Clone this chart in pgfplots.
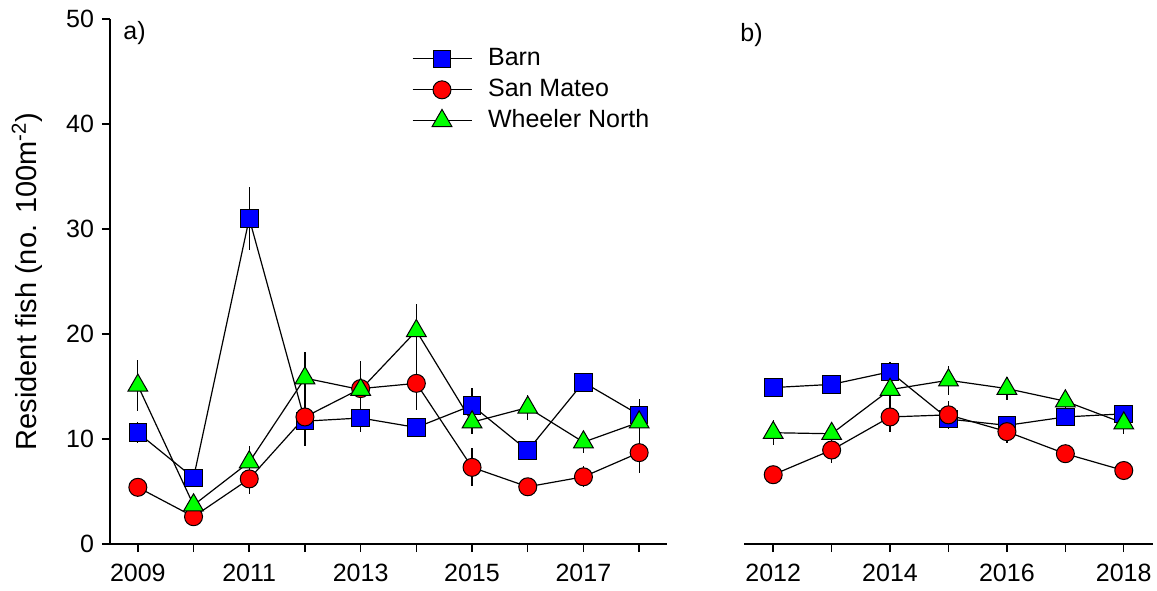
\documentclass[border=0pt]{standalone}
\usepackage{pgfplots}
\pgfplotsset{compat=1.18}
\usepackage{pgfplotstable}
\usepackage{fontspec}
\setmainfont{Liberation Sans}

\pgfplotstableread{
year barn barnE sm smE wn wnE
2009 10.6 1.0 5.4 0.9 15.1 2.4
2010 6.3 0.6 2.6 0.6 3.7 0.6
2011 31.0 3.0 6.2 1.4 7.8 1.5
2012 11.7 1.0 12.1 2.8 15.8 2.5
2013 12.0 1.3 14.8 2.6 14.7 2.0
2014 11.1 0.7 15.3 2.5 20.3 2.6
2015 13.2 1.7 7.3 1.8 11.6 1.1
2016 8.9 0.6 5.45 0.5 13.0 1.2
2017 15.4 0.8 6.4 1.0 9.7 1.0
2018 12.3 1.5 8.7 1.9 11.6 1.3
}\lefttable

\pgfplotstableread{
year barn barnE sm smE wn wnE
2012 14.9 0.4 6.6 0.5 10.6 1.2
2013 15.2 0.7 8.95 1.2 10.5 0.5
2014 16.4 0.9 12.1 1.4 14.7 1.3
2015 11.9 0.6 12.3 1.3 15.6 1.4
2016 11.3 0.6 10.7 1.1 14.8 1.1
2017 12.1 0.5 8.6 0.5 13.6 0.8
2018 12.4 0.5 7.0 0.5 11.5 1.0
}\righttable

\pgfplotsset{
  panel/.style={
    scale only axis,
    height=262.5pt,
    ymin=0, ymax=50,
    font=\fontsize{12.5}{15}\selectfont,
    tick label style={font=\fontsize{12.5}{15}\selectfont},
    /pgf/number format/assume math mode=true,
    /pgf/number format/1000 sep={},
    tick align=outside,
    major tick length=4pt,
    tick style={black, line width=0.75pt},
    axis line style={-, black, line width=0.75pt},
    axis x line*=bottom,
    xticklabel style={yshift=-2.5pt},
    yticklabel style={xshift=-0.5pt},
    clip=false,
  },
  barnstyle/.style={black, line width=0.6pt, mark=square*, mark size=4.4pt,
    mark options={solid, fill=blue, draw=black, line width=0.5pt}},
  smstyle/.style={black, line width=0.6pt, mark=*, mark size=4.5pt,
    mark options={solid, fill=red, draw=black, line width=0.5pt}},
  wnstyle/.style={black, line width=0.6pt, mark=triangle*, mark size=5.7pt,
    mark options={solid, fill=green, draw=black, line width=0.5pt}},
  ebar/.style={forget plot, only marks, mark=none,
    error bars/.cd, y dir=both, y explicit, error mark=none,
    error bar style={draw=black, solid, line width=0.6pt}},
}

\begin{document}
\begin{tikzpicture}
\useasboundingbox (-55pt,-23pt) rectangle (523.5pt,272pt);
\begin{axis}[panel,
  width=278.5pt,
  xmin=2008.5, xmax=2018.5,
  axis y line*=left,
  xtick={2009,...,2018},
  xticklabels={2009,,2011,,2013,,2015,,2017,},
  ytick={0,10,20,30,40,50},
  ylabel={Resident fish (no. 100m\textsuperscript{-2})},
  ylabel style={at={(axis description cs:-0.149,0.5)}, anchor=center, rotate=0,
    font=\fontsize{14.5}{17}\selectfont},
  legend cell align=left,
  legend style={draw=none, fill=none, inner sep=0pt, outer sep=0pt,
    at={(axis description cs:0.542,0.947)}, anchor=north west,
    row sep=3.5pt,
    nodes={inner sep=0pt, text height=9.5pt, text depth=2.5pt},
    /tikz/every odd column/.append style={column sep=8pt},
    font=\fontsize{12.5}{15}\selectfont},
  legend image code/.code={\draw[mark repeat=2,mark phase=2] plot coordinates {(0pt,0pt) (14.75pt,0pt) (29.5pt,0pt)};},
]
\addplot[ebar] table[x=year, y=barn, y error=barnE] {\lefttable};
\addplot[ebar] table[x=year, y=sm, y error=smE] {\lefttable};
\addplot[ebar] table[x=year, y=wn, y error=wnE] {\lefttable};
\addplot[barnstyle] table[x=year, y=barn] {\lefttable};
\addlegendentry{Barn}
\addplot[smstyle] table[x=year, y=sm] {\lefttable};
\addlegendentry{San Mateo}
\addplot[wnstyle] table[x=year, y=wn] {\lefttable};
\addlegendentry{Wheeler North}
\node[anchor=west, inner sep=0pt] at (axis description cs:0.0233,0.973) {a)};
\end{axis}
\begin{axis}[panel,
  at={(317pt,0pt)},
  width=204.5pt,
  xmin=2011.5, xmax=2018.5,
  axis y line=none,
  xtick={2012,...,2018},
  xticklabels={2012,,2014,,2016,,2018},
]
\addplot[ebar] table[x=year, y=barn, y error=barnE] {\righttable};
\addplot[ebar] table[x=year, y=sm, y error=smE] {\righttable};
\addplot[ebar] table[x=year, y=wn, y error=wnE] {\righttable};
\addplot[barnstyle] table[x=year, y=barn] {\righttable};
\addplot[smstyle] table[x=year, y=sm] {\righttable};
\addplot[wnstyle] table[x=year, y=wn] {\righttable};
\node[anchor=west, inner sep=0pt] at (axis description cs:-0.0098,0.97) {b)};
\end{axis}
\end{tikzpicture}
\end{document}
